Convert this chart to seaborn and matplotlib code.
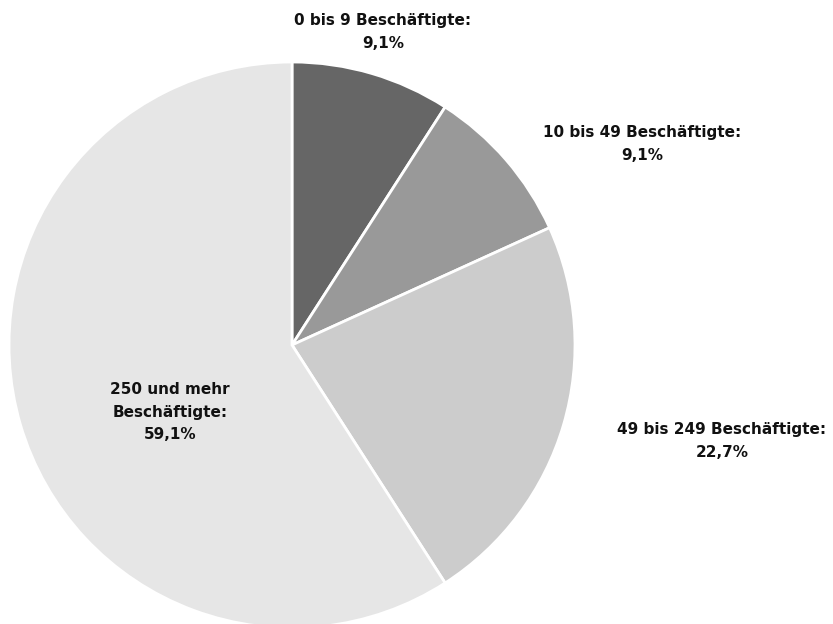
import matplotlib
matplotlib.use("Agg")
import matplotlib.pyplot as plt
import seaborn as sns

sns.set_theme(style="white")
plt.rcParams['font.family'] = ['DejaVu Sans']

categories = ["0 bis 9 Beschäftigte:", "10 bis 49 Beschäftigte:",
              "49 bis 249 Beschäftigte:", "250 und mehr\nBeschäftigte:"]
values = [9.1, 9.1, 22.7, 59.1]
value_labels = ["9,1%", "9,1%", "22,7%", "59,1%"]
colors = ["#666666", "#999999", "#cccccc", "#e6e6e6"]

W, H = 833, 624
fig = plt.figure(figsize=(W / 100, H / 100), dpi=100)
cx, cy, r = 292, 345, 283
ax = fig.add_axes([(cx - r) / W, (H - cy - r) / H, 2 * r / W, 2 * r / H])
ax.pie(values, colors=colors, startangle=90, counterclock=False, radius=1,
       wedgeprops=dict(edgecolor="white", linewidth=2))
ax.set_xlim(-1, 1)
ax.set_ylim(-1, 1)
ax.set_aspect("equal")
ax.axis("off")

# label anchor positions in pixel space
label_pos = [(383, 32), (642, 144), (722, 441), (170, 412)]
for (px, py), cat, val in zip(label_pos, categories, value_labels):
    fig.text(px / W, 1 - py / H, f"{cat}\n{val}", ha="center", va="center",
             fontsize=11, fontweight="bold", color="#111111", linespacing=1.65)

fig.savefig("out.png", dpi=100)
